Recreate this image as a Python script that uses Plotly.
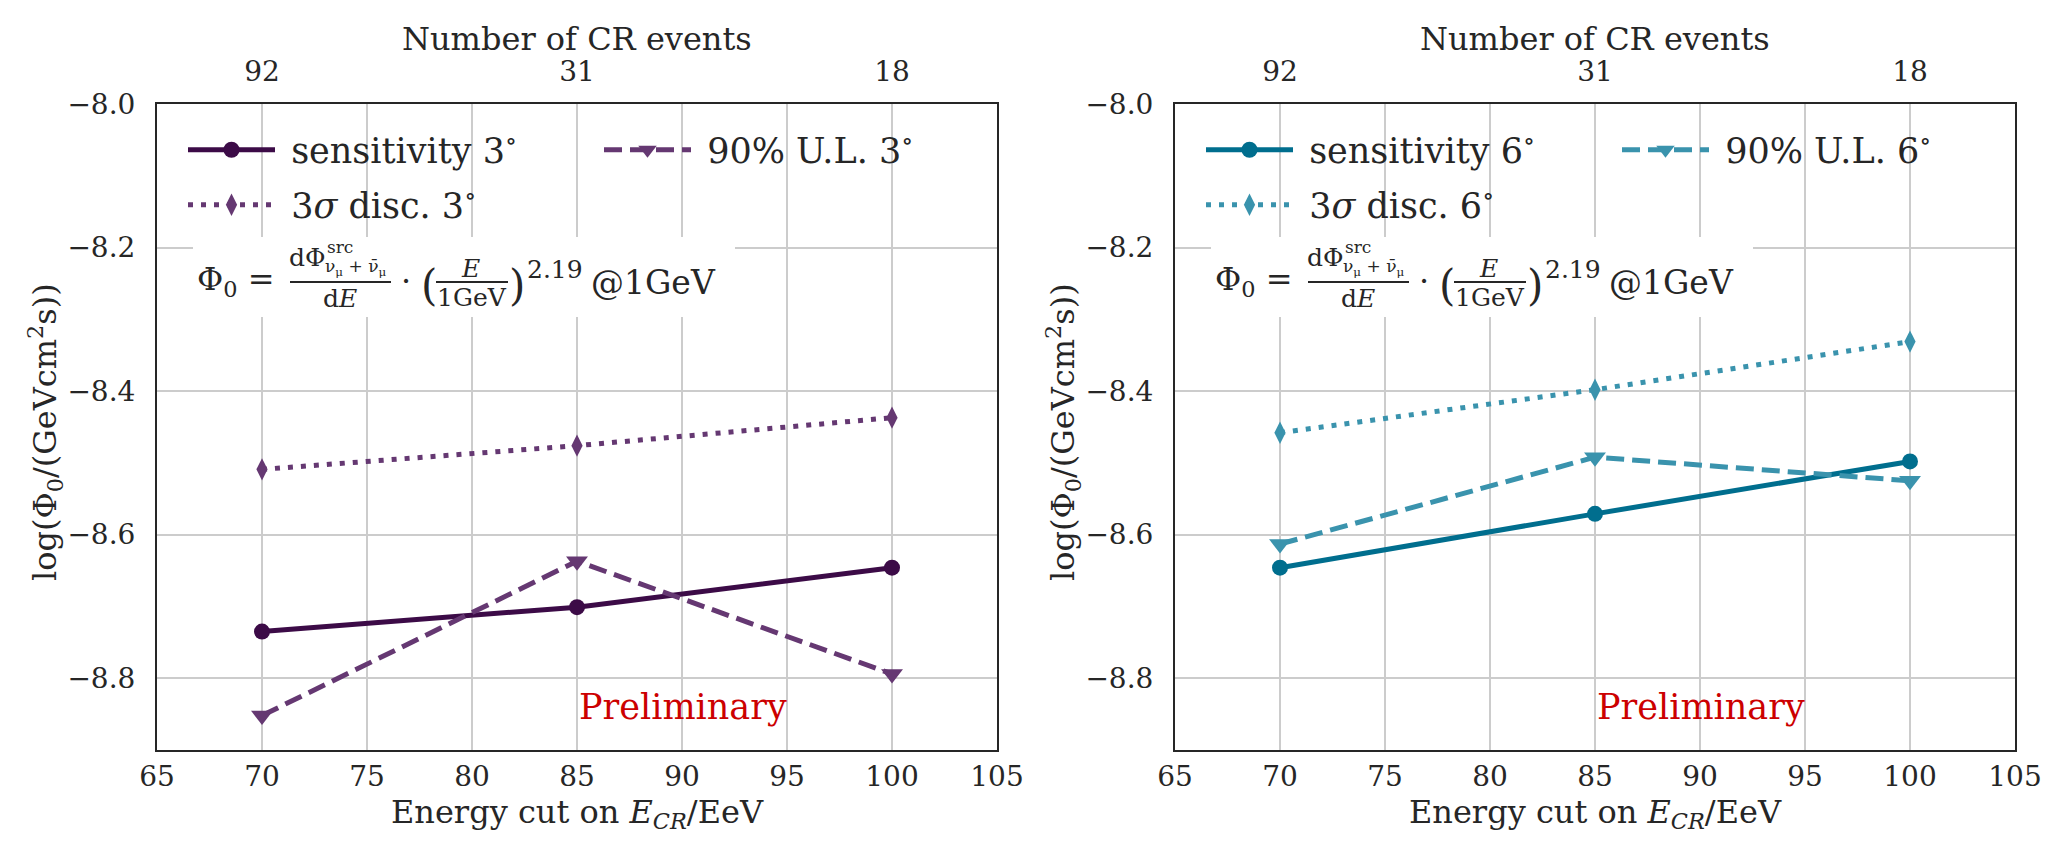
import plotly.graph_objects as go

# ---------------- data ----------------
energy_cut = [70, 85, 100]
n_cr_events = ["92", "31", "18"]
x_ticks = [65, 70, 75, 80, 85, 90, 95, 100, 105]
y_ticks = [-8.0, -8.2, -8.4, -8.6, -8.8]

sens_3 = [-8.735, -8.701, -8.646]
ul_3 = [-8.852, -8.637, -8.794]
disc_3 = [-8.509, -8.476, -8.437]

sens_6 = [-8.646, -8.571, -8.498]
ul_6 = [-8.613, -8.492, -8.525]
disc_6 = [-8.458, -8.398, -8.331]

# ---------------- style ----------------
W, H = 2057, 858
FONT = "DejaVu Serif"
TXT = "#262626"
C3_DARK, C3_LIGHT = "#3c0b47", "#653872"
C6_DARK, C6_LIGHT = "#006e8e", "#3a93ad"
DASH = "18px,8px"
DOT = "5px,8px"
LW = 5


def px(x):
    return x / W


def py(y):
    return 1 - y / H


fig = go.Figure()

panels = [
    dict(xa="x", ya="y", top="x3", off=0, deg="3", dark=C3_DARK, light=C3_LIGHT,
         sens=sens_3, ul=ul_3, disc=disc_3, lg=("legend", "legend2", "legend3")),
    dict(xa="x2", ya="y2", top="x4", off=1018, deg="6", dark=C6_DARK, light=C6_LIGHT,
         sens=sens_6, ul=ul_6, disc=disc_6, lg=("legend4", "legend5", "legend6")),
]

for p in panels:
    fig.add_trace(go.Scatter(
        x=energy_cut, y=p["sens"], xaxis=p["xa"], yaxis=p["ya"],
        mode="lines+markers", name=" sensitivity " + p["deg"] + "<sup>∘</sup>",
        line=dict(color=p["dark"], width=LW),
        marker=dict(symbol="circle", size=16, color=p["dark"]),
        legend=p["lg"][0]))
    fig.add_trace(go.Scatter(
        x=energy_cut, y=p["disc"], xaxis=p["xa"], yaxis=p["ya"],
        mode="lines+markers", name=" 3<i>σ</i> disc. " + p["deg"] + "<sup>∘</sup>",
        line=dict(color=p["light"], width=LW, dash=DOT),
        marker=dict(symbol="diamond-tall", size=16, color=p["light"]),
        legend=p["lg"][1]))
    fig.add_trace(go.Scatter(
        x=energy_cut, y=p["ul"], xaxis=p["xa"], yaxis=p["ya"],
        mode="lines+markers", name=" 90% U.L. " + p["deg"] + "<sup>∘</sup>",
        line=dict(color=p["light"], width=LW, dash=DASH),
        marker=dict(symbol="triangle-down", size=19, color=p["light"]),
        legend=p["lg"][2]))
    # invisible trace so the secondary (top) axis is drawn
    fig.add_trace(go.Scatter(
        x=energy_cut, y=p["sens"], xaxis=p["top"], yaxis=p["ya"], mode="markers",
        marker=dict(opacity=0), showlegend=False, hoverinfo="skip"))

# ---------------- axes ----------------
tickfont = dict(family=FONT, size=28, color=TXT)
titlefont = dict(family=FONT, size=32, color=TXT)

xcommon = dict(range=[65, 105], tickvals=x_ticks, showgrid=True, gridcolor="#cccccc",
               gridwidth=2, showline=True, linecolor=TXT, linewidth=2, mirror=True,
               ticks="", tickfont=tickfont,
               zeroline=False, automargin=False,
               title=dict(text="Energy cut on <i>E</i><sub><i>CR</i></sub>/EeV",
                          font=titlefont, standoff=8))
ycommon = dict(range=[-8.9, -8.0], tickvals=y_ticks, tickformat=".1f", showgrid=True,
               gridcolor="#cccccc", gridwidth=2, showline=True, linecolor=TXT, linewidth=2,
               mirror=True, ticks="outside", ticklen=14, tickcolor="rgba(0,0,0,0)",
               tickfont=tickfont, zeroline=False, automargin=False)
topcommon = dict(range=[65, 105], tickvals=energy_cut, ticktext=n_cr_events, side="top",
                 showgrid=False, showline=False, zeroline=False, ticks="outside", ticklen=11,
                 tickcolor="rgba(0,0,0,0)", tickfont=tickfont, automargin=False)

ydom = [py(750), py(104)]
fig.update_layout(
    xaxis=dict(domain=[px(157), px(997)], anchor="y", **xcommon),
    xaxis2=dict(domain=[px(1175), px(2015)], anchor="y2", **xcommon),
    yaxis=dict(domain=ydom, anchor="x", **ycommon),
    yaxis2=dict(domain=ydom, anchor="x2", **ycommon),
    xaxis3=dict(overlaying="x", anchor="y", **topcommon),
    xaxis4=dict(overlaying="x2", anchor="y2", **topcommon),
)

# ---------------- legends ----------------
legfont = dict(family=FONT, size=35, color=TXT)
leg_pos = [(188, 150), (188, 205), (604, 150)]
legs = {}
for p in panels:
    for name, (lx, ly) in zip(p["lg"], leg_pos):
        legs[name] = dict(x=px(lx + p["off"] - 5), y=py(ly), xanchor="left", yanchor="middle",
                          bgcolor="rgba(0,0,0,0)", borderwidth=0, font=legfont,
                          itemwidth=87, orientation="v", visible=True)
fig.update_layout(showlegend=True, **legs)

# ---------------- formula box + text ----------------
shapes = []
annotations = []


def ann(text, x, y, size, xanchor="center", off=0, angle=0):
    annotations.append(dict(text=text, x=px(x + off), y=py(y), xref="paper", yref="paper",
                            showarrow=False, xanchor=xanchor, yanchor="middle",
                            textangle=angle, borderpad=0,
                            font=dict(family=FONT, size=size, color=TXT)))


for p in panels:
    o = p["off"]
    # axis titles placed explicitly (top title and rotated y title)
    ann("Number of CR events", 577, 39, 32, "center", o)
    ann("log(Φ<sub>0</sub>/(GeVcm<sup>2</sup>s))", 45, 432, 32, "center", o, -90)

    shapes.append(dict(type="rect", xref="paper", yref="paper", x0=px(193 + o), x1=px(735 + o),
                       y0=py(317), y1=py(237), fillcolor="white", line=dict(width=0),
                       layer="above"))
    ann("Φ<sub>0</sub> =", 196, 281, 32, "left", o)
    ann("dΦ", 307, 257, 25, "center", o)
    ann("src", 326, 247, 17, "left", o)
    ann("ν<sub>μ</sub> + ν̄<sub>μ</sub>", 324, 267, 17, "left", o)
    shapes.append(dict(type="line", xref="paper", yref="paper", x0=px(290 + o), x1=px(391 + o),
                       y0=py(282), y1=py(282), line=dict(color=TXT, width=2), layer="above"))
    ann("d<i>E</i>", 340, 298, 25, "center", o)
    ann("·", 406, 281, 32, "center", o)
    ann("(", 429, 285, 42, "center", o)
    ann("<i>E</i>", 470, 268, 25, "center", o)
    shapes.append(dict(type="line", xref="paper", yref="paper", x0=px(436 + o), x1=px(508 + o),
                       y0=py(282), y1=py(282), line=dict(color=TXT, width=2), layer="above"))
    ann("1GeV", 472, 297, 25, "center", o)
    ann(")", 517, 285, 42, "center", o)
    ann("2.19", 526, 269, 25, "left", o)
    ann("@1GeV", 590, 282, 33, "left", o)
    # Preliminary label in data coordinates
    annotations.append(dict(text="Preliminary", x=85, y=-8.84, xref=p["xa"], yref=p["ya"],
                            showarrow=False, xanchor="left", yanchor="middle",
                            font=dict(family=FONT, size=35, color="#cc0000")))

fig.update_layout(shapes=shapes, annotations=annotations)

fig.update_layout(
    width=W, height=H, margin=dict(l=0, r=0, t=0, b=0),
    paper_bgcolor="white", plot_bgcolor="white",
    font=dict(family=FONT, color=TXT),
)

fig.write_html("out.html")
